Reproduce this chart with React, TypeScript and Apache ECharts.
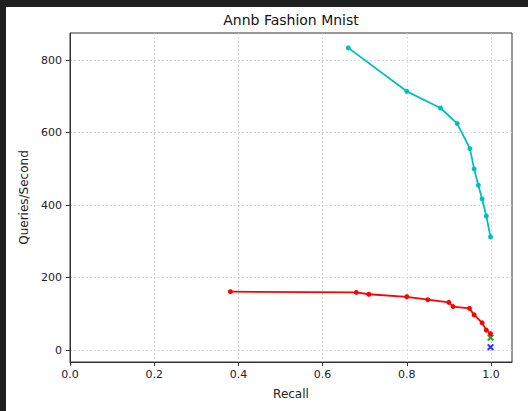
import React, { useEffect, useRef } from "react";
import * as echarts from "echarts";

const titleText = "Annb Fashion Mnist";
const xName = "Recall";
const yName = "Queries/Second";

const cyanRecall = [0.661, 0.8, 0.88, 0.92, 0.95, 0.96, 0.97, 0.979, 0.989, 0.999];
const cyanQps = [834, 714, 668, 625, 556, 500, 455, 417, 370, 312];

const redRecall = [0.381, 0.68, 0.71, 0.8, 0.85, 0.9, 0.91, 0.949, 0.96, 0.979, 0.989, 0.999];
const redQps = [161, 159, 154, 147, 139, 131.5, 120, 115, 97, 75, 55, 45];

const greenRecall = [0.999];
const greenQps = [34];

const blueRecall = [0.999];
const blueQps = [8];

const xTicks = [0, 0.2, 0.4, 0.6, 0.8, 1.0];
const yTicks = [0, 200, 400, 600, 800];

const zip = (a: number[], b: number[]) => a.map((v, i) => [v, b[i]]);

const X_SYMBOL = "path://M0,2L2,0L10,8L8,10Z M8,0L10,2L2,10L0,8Z";

export default function App() {
  const ref = useRef<HTMLDivElement>(null);
  useEffect(() => {
    if (!ref.current) return;
    const chart = echarts.init(ref.current, undefined, { renderer: "svg" });
    const font = "DejaVu Sans";
    const gridLine = { show: true, lineStyle: { color: "#d0d0d0", type: [2, 2] as any, width: 0.8 } };
    chart.setOption({
      animation: false,
      backgroundColor: "#ffffff",
      textStyle: { fontFamily: font },
      graphic: [
        {
          type: "text",
          x: 285,
          y: 13,
          style: {
            text: titleText,
            fontFamily: font,
            fontSize: 14,
            fill: "#111",
            textAlign: "center",
            textVerticalAlign: "middle",
          },
        },
      ],
      grid: {
        left: 64,
        top: 26,
        right: 16,
        bottom: 49,
        show: true,
        borderColor: "#333",
        borderWidth: 1,
        backgroundColor: "transparent",
      },
      xAxis: {
        type: "value",
        min: 0,
        max: 1.05,
        name: xName,
        nameLocation: "middle",
        nameGap: 26,
        nameTextStyle: { fontFamily: font, fontSize: 12, color: "#222" },
        axisLine: { show: true, onZero: false, lineStyle: { color: "#333", width: 1 } },
        axisTick: { show: true, length: 4, lineStyle: { color: "#333" }, customValues: xTicks },
        axisLabel: {
          fontFamily: font,
          fontSize: 11,
          color: "#222",
          margin: 7,
          customValues: xTicks,
          formatter: (v: number) => v.toFixed(1),
        },
        splitLine: gridLine,
      },
      yAxis: {
        type: "value",
        min: -33,
        max: 875,
        name: yName,
        nameLocation: "middle",
        nameGap: 29,
        nameTextStyle: { fontFamily: font, fontSize: 12, color: "#222" },
        axisLine: { show: true, onZero: false, lineStyle: { color: "#333", width: 1 } },
        axisTick: { show: true, length: 4, lineStyle: { color: "#333" }, customValues: yTicks },
        axisLabel: {
          fontFamily: font,
          fontSize: 11,
          color: "#222",
          margin: 8,
          customValues: yTicks,
          formatter: (v: number) => String(Math.round(v)),
        },
        splitLine: gridLine,
      },
      series: [
        {
          type: "line",
          data: zip(cyanRecall, cyanQps),
          color: "#00BFBF",
          lineStyle: { width: 1.8, color: "#00BFBF" },
          symbol: "circle",
          symbolSize: 5,
          itemStyle: { color: "#00BFBF" },
        },
        {
          type: "line",
          data: zip(redRecall, redQps),
          color: "#FF0000",
          lineStyle: { width: 1.8, color: "#FF0000" },
          symbol: "circle",
          symbolSize: 5,
          itemStyle: { color: "#FF0000" },
        },
        {
          type: "scatter",
          data: zip(greenRecall, greenQps),
          symbol: X_SYMBOL,
          symbolSize: 7,
          itemStyle: { color: "#008000" },
        },
        {
          type: "scatter",
          data: zip(blueRecall, blueQps),
          symbol: X_SYMBOL,
          symbolSize: 7,
          itemStyle: { color: "#0000FF" },
        },
      ],
    });
    return () => chart.dispose();
  }, []);
  return (
    <div style={{ position: "fixed", left: 0, top: 0, width: 528, height: 411, background: "#1f1f1f" }}>
      <div style={{ position: "absolute", left: 6, top: 7, width: 522, height: 404, background: "#fff" }}>
        <div ref={ref} style={{ width: 522, height: 404 }} />
      </div>
    </div>
  );
}
